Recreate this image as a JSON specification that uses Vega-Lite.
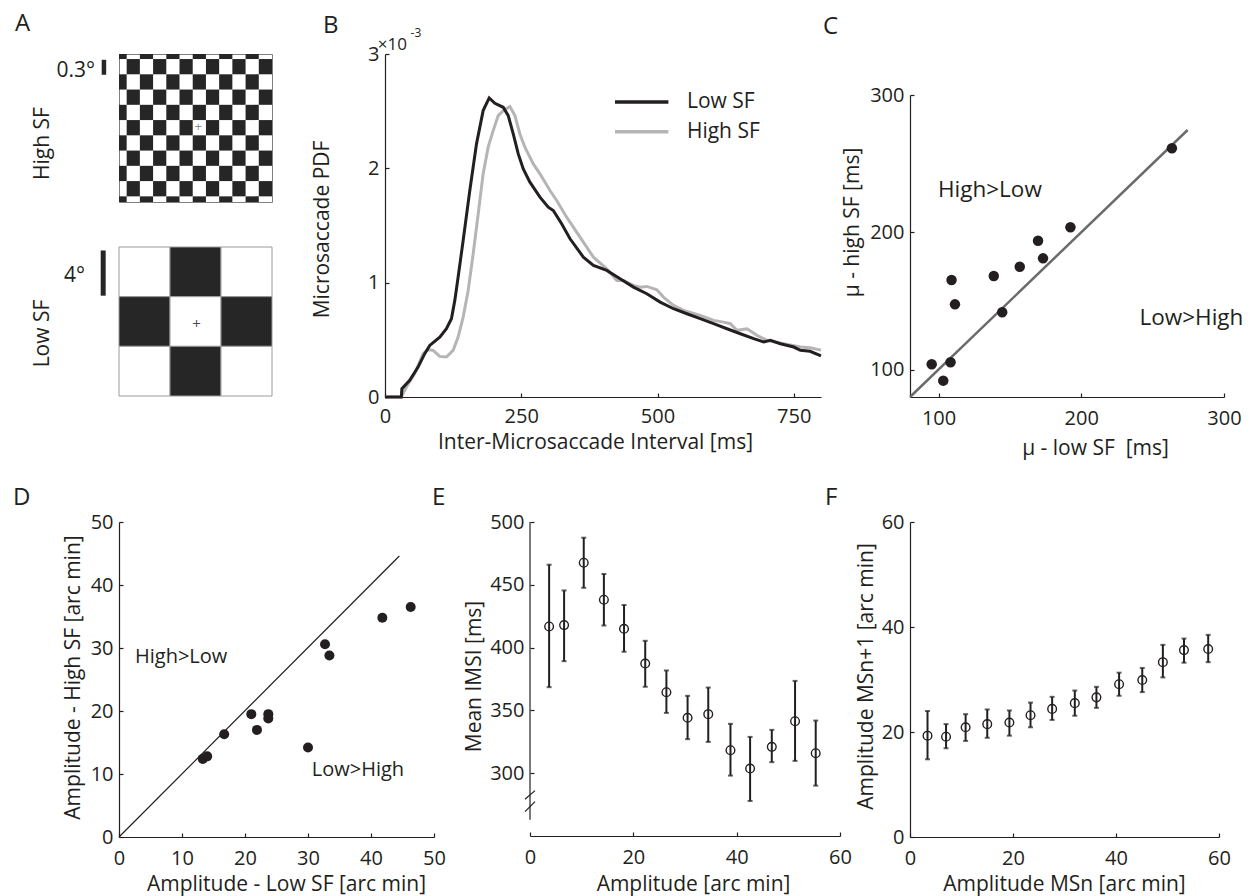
{
  "$schema": "https://vega.github.io/schema/vega-lite/v6.json",
  "autosize": {"type": "none"},
  "padding": {"left": 119, "top": 54, "right": 1133, "bottom": 842},
  "background": "white",
  "config": {
    "font": "Open Sans",
    "view": {"stroke": null},
    "axis": {"grid": false, "domainColor": "#231f20", "domainWidth": 1.2, "tickColor": "#231f20", "tickWidth": 1.2, "tickSize": -4, "labelColor": "#231f20", "labelFontSize": 20, "labelFont": "Open Sans", "titleFont": "Open Sans", "titleFontSize": 21, "titleFontWeight": "normal", "titleColor": "#231f20", "titleBaseline": "alphabetic", "titleAlign": "center", "labelFlush": false, "labelOverlap": false},
    "axisX": {"labelPadding": 15},
    "axisY": {"labelPadding": 10},
    "title": {"anchor": "start", "frame": "group", "fontSize": 24, "fontWeight": "normal", "font": "Open Sans", "color": "#231f20", "baseline": "alphabetic"},
    "text": {"font": "Open Sans", "color": "#231f20"}
  },
  "datasets": {
    "highCells": [
      {"c":-1,"ce":0,"r":-1,"re":0},{"c":1,"ce":2,"r":-1,"re":0},{"c":3,"ce":4,"r":-1,"re":0},{"c":5,"ce":6,"r":-1,"re":0},{"c":7,"ce":8,"r":-1,"re":0},{"c":9,"ce":10,"r":-1,"re":0},
      {"c":0,"ce":1,"r":0,"re":1},{"c":2,"ce":3,"r":0,"re":1},{"c":4,"ce":5,"r":0,"re":1},{"c":6,"ce":7,"r":0,"re":1},{"c":8,"ce":9,"r":0,"re":1},{"c":10,"ce":11,"r":0,"re":1},
      {"c":-1,"ce":0,"r":1,"re":2},{"c":1,"ce":2,"r":1,"re":2},{"c":3,"ce":4,"r":1,"re":2},{"c":5,"ce":6,"r":1,"re":2},{"c":7,"ce":8,"r":1,"re":2},{"c":9,"ce":10,"r":1,"re":2},
      {"c":0,"ce":1,"r":2,"re":3},{"c":2,"ce":3,"r":2,"re":3},{"c":4,"ce":5,"r":2,"re":3},{"c":6,"ce":7,"r":2,"re":3},{"c":8,"ce":9,"r":2,"re":3},{"c":10,"ce":11,"r":2,"re":3},
      {"c":-1,"ce":0,"r":3,"re":4},{"c":1,"ce":2,"r":3,"re":4},{"c":3,"ce":4,"r":3,"re":4},{"c":5,"ce":6,"r":3,"re":4},{"c":7,"ce":8,"r":3,"re":4},{"c":9,"ce":10,"r":3,"re":4},
      {"c":0,"ce":1,"r":4,"re":5},{"c":2,"ce":3,"r":4,"re":5},{"c":4,"ce":5,"r":4,"re":5},{"c":6,"ce":7,"r":4,"re":5},{"c":8,"ce":9,"r":4,"re":5},{"c":10,"ce":11,"r":4,"re":5},
      {"c":-1,"ce":0,"r":5,"re":6},{"c":1,"ce":2,"r":5,"re":6},{"c":3,"ce":4,"r":5,"re":6},{"c":5,"ce":6,"r":5,"re":6},{"c":7,"ce":8,"r":5,"re":6},{"c":9,"ce":10,"r":5,"re":6},
      {"c":0,"ce":1,"r":6,"re":7},{"c":2,"ce":3,"r":6,"re":7},{"c":4,"ce":5,"r":6,"re":7},{"c":6,"ce":7,"r":6,"re":7},{"c":8,"ce":9,"r":6,"re":7},{"c":10,"ce":11,"r":6,"re":7},
      {"c":-1,"ce":0,"r":7,"re":8},{"c":1,"ce":2,"r":7,"re":8},{"c":3,"ce":4,"r":7,"re":8},{"c":5,"ce":6,"r":7,"re":8},{"c":7,"ce":8,"r":7,"re":8},{"c":9,"ce":10,"r":7,"re":8},
      {"c":0,"ce":1,"r":8,"re":9},{"c":2,"ce":3,"r":8,"re":9},{"c":4,"ce":5,"r":8,"re":9},{"c":6,"ce":7,"r":8,"re":9},{"c":8,"ce":9,"r":8,"re":9},{"c":10,"ce":11,"r":8,"re":9},
      {"c":-1,"ce":0,"r":9,"re":10},{"c":1,"ce":2,"r":9,"re":10},{"c":3,"ce":4,"r":9,"re":10},{"c":5,"ce":6,"r":9,"re":10},{"c":7,"ce":8,"r":9,"re":10},{"c":9,"ce":10,"r":9,"re":10}
    ],
    "lowCells": [
      {"c":0,"ce":1,"r":0,"re":1,"tone":"light"},{"c":1,"ce":2,"r":0,"re":1,"tone":"dark"},{"c":2,"ce":3,"r":0,"re":1,"tone":"light"},
      {"c":0,"ce":1,"r":1,"re":2,"tone":"dark"},{"c":1,"ce":2,"r":1,"re":2,"tone":"light"},{"c":2,"ce":3,"r":1,"re":2,"tone":"dark"},
      {"c":0,"ce":1,"r":2,"re":3,"tone":"light"},{"c":1,"ce":2,"r":2,"re":3,"tone":"dark"},{"c":2,"ce":3,"r":2,"re":3,"tone":"light"}
    ],
    "curveLow": [
      {"ms":0,"pdf":0},{"ms":30,"pdf":0},{"ms":31,"pdf":0.073},{"ms":45.3,"pdf":0.146},{"ms":60.7,"pdf":0.262},{"ms":72.9,"pdf":0.379},{"ms":82.1,"pdf":0.451},{"ms":100.5,"pdf":0.524},{"ms":112.7,"pdf":0.597},{"ms":121.9,"pdf":0.685},{"ms":128.1,"pdf":0.845},{"ms":134.2,"pdf":1.049},{"ms":143.4,"pdf":1.369},{"ms":155.6,"pdf":1.806},{"ms":167.9,"pdf":2.214},{"ms":180.1,"pdf":2.505},{"ms":191.2,"pdf":2.616},{"ms":201.6,"pdf":2.569},{"ms":216.9,"pdf":2.534},{"ms":226.1,"pdf":2.461},{"ms":235.3,"pdf":2.301},{"ms":244.5,"pdf":2.126},{"ms":253.7,"pdf":1.995},{"ms":265.9,"pdf":1.879},{"ms":284.3,"pdf":1.748},{"ms":299.6,"pdf":1.66},{"ms":308.8,"pdf":1.631},{"ms":324.1,"pdf":1.515},{"ms":339.5,"pdf":1.384},{"ms":364,"pdf":1.223},{"ms":382.4,"pdf":1.151},{"ms":406.9,"pdf":1.107},{"ms":431.4,"pdf":1.034},{"ms":455.9,"pdf":0.961},{"ms":480.4,"pdf":0.903},{"ms":504.9,"pdf":0.83},{"ms":529.4,"pdf":0.772},{"ms":553.9,"pdf":0.728},{"ms":578.4,"pdf":0.685},{"ms":602.9,"pdf":0.641},{"ms":627.5,"pdf":0.597},{"ms":652,"pdf":0.553},{"ms":676.5,"pdf":0.51},{"ms":694.9,"pdf":0.481},{"ms":707.1,"pdf":0.495},{"ms":725.5,"pdf":0.466},{"ms":750,"pdf":0.437},{"ms":762.3,"pdf":0.408},{"ms":780,"pdf":0.4},{"ms":800,"pdf":0.36}
    ],
    "curveHigh": [
      {"ms":0,"pdf":0},{"ms":30,"pdf":0},{"ms":39.2,"pdf":0.087},{"ms":54.5,"pdf":0.204},{"ms":69.9,"pdf":0.379},{"ms":79,"pdf":0.414},{"ms":88.2,"pdf":0.408},{"ms":100.5,"pdf":0.355},{"ms":112.7,"pdf":0.35},{"ms":125,"pdf":0.408},{"ms":134.2,"pdf":0.524},{"ms":143.4,"pdf":0.699},{"ms":152.6,"pdf":0.932},{"ms":161.8,"pdf":1.253},{"ms":171,"pdf":1.602},{"ms":180.1,"pdf":1.952},{"ms":189.3,"pdf":2.185},{"ms":198.5,"pdf":2.33},{"ms":207.7,"pdf":2.461},{"ms":216.9,"pdf":2.505},{"ms":229.2,"pdf":2.54},{"ms":238.4,"pdf":2.461},{"ms":247.5,"pdf":2.301},{"ms":256.7,"pdf":2.185},{"ms":272.1,"pdf":2.039},{"ms":284.3,"pdf":1.952},{"ms":302.7,"pdf":1.806},{"ms":315,"pdf":1.719},{"ms":333.3,"pdf":1.573},{"ms":357.8,"pdf":1.398},{"ms":382.4,"pdf":1.223},{"ms":406.9,"pdf":1.121},{"ms":425.2,"pdf":1.02},{"ms":437.5,"pdf":1.02},{"ms":455.9,"pdf":0.976},{"ms":468.1,"pdf":0.961},{"ms":480.4,"pdf":0.967},{"ms":498.8,"pdf":0.938},{"ms":511,"pdf":0.874},{"ms":529.4,"pdf":0.801},{"ms":547.8,"pdf":0.757},{"ms":578.4,"pdf":0.714},{"ms":602.9,"pdf":0.67},{"ms":621.3,"pdf":0.655},{"ms":633.6,"pdf":0.641},{"ms":645.8,"pdf":0.583},{"ms":664.2,"pdf":0.597},{"ms":682.6,"pdf":0.539},{"ms":701,"pdf":0.495},{"ms":731.6,"pdf":0.466},{"ms":762.3,"pdf":0.437},{"ms":780,"pdf":0.43},{"ms":800,"pdf":0.41}
    ],
    "muC": [
      {"low":95.2,"high":103.8},{"low":103.3,"high":91.9},{"low":108.4,"high":105.3},{"low":109.1,"high":165.2},{"low":111.5,"high":147.5},{"low":138.7,"high":168.1},{"low":144.6,"high":141.7},{"low":156.9,"high":174.9},{"low":169.7,"high":193.8},{"low":173.2,"high":181.0},{"low":192.4,"high":203.6},{"low":263.5,"high":261.2}
    ],
    "ampD": [
      {"low":13.3,"high":12.4},{"low":14.0,"high":12.8},{"low":16.7,"high":16.3},{"low":21.0,"high":19.5},{"low":21.9,"high":17.0},{"low":23.7,"high":19.5},{"low":23.7,"high":18.8},{"low":30.0,"high":14.2},{"low":32.7,"high":30.6},{"low":33.4,"high":28.8},{"low":41.8,"high":34.8},{"low":46.3,"high":36.5}
    ],
    "imsiE": [
      {"a":3.7,"m":416.8,"lo":368.5,"hi":466.0},{"a":6.6,"m":417.9,"lo":389.2,"hi":445.5},{"a":10.4,"m":467.6,"lo":447.6,"hi":487.5},{"a":14.3,"m":438.1,"lo":417.6,"hi":458.6},{"a":18.2,"m":415.0,"lo":396.7,"hi":433.9},{"a":22.3,"m":387.3,"lo":368.8,"hi":405.4},{"a":26.4,"m":364.5,"lo":348.0,"hi":381.8},{"a":30.5,"m":344.1,"lo":327.1,"hi":361.6},{"a":34.5,"m":347.0,"lo":324.9,"hi":368.2},{"a":38.8,"m":318.3,"lo":298.1,"hi":339.3},{"a":42.6,"m":303.7,"lo":277.9,"hi":328.9},{"a":46.8,"m":321.0,"lo":308.8,"hi":334.5},{"a":51.3,"m":341.4,"lo":309.8,"hi":373.5},{"a":55.3,"m":315.9,"lo":290.1,"hi":341.9}
    ],
    "ampF": [
      {"a":3.4,"m":19.3,"lo":14.8,"hi":24.0},{"a":7.0,"m":19.1,"lo":16.9,"hi":21.5},{"a":10.8,"m":20.9,"lo":18.3,"hi":23.4},{"a":15.0,"m":21.5,"lo":18.9,"hi":24.3},{"a":19.3,"m":21.8,"lo":19.3,"hi":24.1},{"a":23.4,"m":23.2,"lo":20.9,"hi":25.6},{"a":27.6,"m":24.4,"lo":22.3,"hi":26.7},{"a":32.0,"m":25.5,"lo":23.1,"hi":27.9},{"a":36.2,"m":26.6,"lo":24.6,"hi":28.6},{"a":40.6,"m":29.1,"lo":26.9,"hi":31.3},{"a":45.1,"m":29.9,"lo":27.6,"hi":32.2},{"a":49.1,"m":33.3,"lo":30.4,"hi":36.6},{"a":53.2,"m":35.6,"lo":33.2,"hi":37.8},{"a":57.9,"m":35.8,"lo":33.3,"hi":38.5}
    ]
  },
  "bounds": "flush",
  "spacing": 468,
  "vconcat": [
    {
      "bounds": "flush",
      "spacing": 266,
      "hconcat": [
        {
          "bounds": "flush",
          "spacing": 45,
          "vconcat": [
            {
              "width": 153, "height": 148,
              "title": {"text": "A", "dx": -104, "offset": 21, "dy": 3},
              "view": {"stroke": "#808080", "strokeWidth": 1},
              "layer": [
                {"data": {"name": "highCells"}, "mark": {"type": "rect", "clip": true, "color": "#262626"},
                 "encoding": {
                   "x": {"field": "c", "type": "quantitative", "scale": {"domain": [-0.58, 11.0], "nice": false, "zero": false}, "axis": null},
                   "x2": {"field": "ce"},
                   "y": {"field": "r", "type": "quantitative", "scale": {"domain": [-0.33, 9.37], "nice": false, "zero": false, "reverse": true},
                         "axis": {"title": "High SF", "domain": false, "ticks": false, "labels": false, "titleX": -71, "titleY": 89}},
                   "y2": {"field": "re"}}},
                {"data": {"values": [{}]}, "mark": {"type": "text", "text": "+", "fontSize": 13, "color": "#8c8c8c", "align": "center", "baseline": "middle"},
                 "encoding": {"x": {"datum": 5.42, "type": "quantitative"}, "y": {"datum": 4.48, "type": "quantitative"}}},
                {"data": {"values": [{}]}, "mark": {"type": "rule", "strokeWidth": 4.5, "color": "#262626"},
                 "encoding": {"x": {"datum": -1.72, "type": "quantitative"}, "y": {"datum": 0.05, "type": "quantitative"}, "y2": {"datum": 1.03}}},
                {"data": {"values": [{}]}, "mark": {"type": "text", "text": "0.3°", "fontSize": 21, "align": "right", "baseline": "alphabetic"},
                 "encoding": {"x": {"datum": -2.4, "type": "quantitative"}, "y": {"datum": 1.16, "type": "quantitative"}}}
              ]
            },
            {
              "width": 153, "height": 149,
              "layer": [
                {"data": {"name": "lowCells"}, "mark": {"type": "rect", "stroke": "#9a9a9a", "strokeWidth": 1},
                 "encoding": {
                   "x": {"field": "c", "type": "quantitative", "scale": {"domain": [0, 3], "nice": false, "zero": false}, "axis": null},
                   "x2": {"field": "ce"},
                   "y": {"field": "r", "type": "quantitative", "scale": {"domain": [0, 3], "nice": false, "zero": false, "reverse": true},
                         "axis": {"title": "Low SF", "domain": false, "ticks": false, "labels": false, "titleX": -71, "titleY": 86}},
                   "y2": {"field": "re"},
                   "fill": {"field": "tone", "type": "nominal", "scale": {"domain": ["dark", "light"], "range": ["#262626", "#ffffff"]}, "legend": null}}},
                {"data": {"values": [{}]}, "mark": {"type": "text", "text": "+", "fontSize": 15, "color": "#4a4a4a", "align": "center", "baseline": "middle"},
                 "encoding": {"x": {"datum": 1.52, "type": "quantitative"}, "y": {"datum": 1.55, "type": "quantitative"}}},
                {"data": {"values": [{}]}, "mark": {"type": "rule", "strokeWidth": 5, "color": "#262626"},
                 "encoding": {"x": {"datum": -0.31, "type": "quantitative"}, "y": {"datum": 0.07, "type": "quantitative"}, "y2": {"datum": 0.98}}},
                {"data": {"values": [{}]}, "mark": {"type": "text", "text": "4°", "fontSize": 21, "align": "right", "baseline": "alphabetic"},
                 "encoding": {"x": {"datum": -0.667, "type": "quantitative"}, "y": {"datum": 0.7, "type": "quantitative"}}}
              ]
            }
          ]
        },
        {
          "bounds": "flush",
          "spacing": 89,
          "hconcat": [
            {
              "width": 436, "height": 343,
              "title": {"text": "B", "dx": -62, "offset": 9, "dy": 20},
              "layer": [
                {"data": {"name": "curveHigh"}, "mark": {"type": "line", "strokeWidth": 3, "color": "#b5b5b8"},
                 "encoding": {
                   "x": {"field": "ms", "type": "quantitative", "scale": {"domain": [0, 800], "nice": false}, "axis": {"values": [0, 250, 500, 750], "labelPadding": 13, "title": "Inter-Microsaccade Interval [ms]", "titleX": 210, "titleY": 51}},
                   "y": {"field": "pdf", "type": "quantitative", "scale": {"domain": [0, 3], "nice": false}, "axis": {"values": [0, 1, 2, 3], "format": "d", "title": "Microsaccade PDF", "titleX": -57, "titleY": 175}}}},
                {"data": {"name": "curveLow"}, "mark": {"type": "line", "strokeWidth": 3, "color": "#231f20"},
                 "encoding": {"x": {"field": "ms", "type": "quantitative"}, "y": {"field": "pdf", "type": "quantitative"}}},
                {"data": {"values": [{}]}, "mark": {"type": "rule", "strokeWidth": 3.5, "color": "#231f20"},
                 "encoding": {"x": {"datum": 422, "type": "quantitative"}, "x2": {"datum": 520}, "y": {"datum": 2.58, "type": "quantitative"}}},
                {"data": {"values": [{}]}, "mark": {"type": "rule", "strokeWidth": 3.5, "color": "#b5b5b8"},
                 "encoding": {"x": {"datum": 422, "type": "quantitative"}, "x2": {"datum": 520}, "y": {"datum": 2.32, "type": "quantitative"}}},
                {"data": {"values": [{}]}, "mark": {"type": "text", "text": "Low SF", "fontSize": 21, "align": "left", "baseline": "middle"},
                 "encoding": {"x": {"datum": 554, "type": "quantitative"}, "y": {"datum": 2.58, "type": "quantitative"}}},
                {"data": {"values": [{}]}, "mark": {"type": "text", "text": "High SF", "fontSize": 21, "align": "left", "baseline": "middle"},
                 "encoding": {"x": {"datum": 554, "type": "quantitative"}, "y": {"datum": 2.32, "type": "quantitative"}}},
                {"data": {"values": [{}]}, "mark": {"type": "text", "text": "×10", "fontSize": 17, "align": "left", "baseline": "alphabetic"},
                 "encoding": {"x": {"datum": -13.4, "type": "quantitative"}, "y": {"datum": 3.035, "type": "quantitative"}}},
                {"data": {"values": [{}]}, "mark": {"type": "text", "text": "-3", "fontSize": 12, "align": "left", "baseline": "alphabetic"},
                 "encoding": {"x": {"datum": 47, "type": "quantitative"}, "y": {"datum": 3.15, "type": "quantitative"}}}
              ]
            },
            {
              "bounds": "flush",
              "spacing": 40,
              "vconcat": [
                {"width": 314, "height": 1, "data": {"values": [{}]}, "mark": {"type": "text", "text": ""}, "encoding": {}},
                {
                  "width": 314, "height": 302,
                  "title": {"text": "C", "dx": -87, "offset": 50, "dy": 4},
                  "layer": [
                    {"data": {"values": [{}]}, "mark": {"type": "rule", "strokeWidth": 2.5, "color": "#6b6b6b"},
                     "encoding": {
                       "x": {"datum": 80, "type": "quantitative", "scale": {"domain": [80, 300], "nice": false, "zero": false}, "axis": {"values": [100, 200, 300], "title": "μ - low SF\u00a0 [ms]", "titleX": 185, "titleY": 57}},
                       "y": {"datum": 80, "type": "quantitative", "scale": {"domain": [80, 300], "nice": false, "zero": false}, "axis": {"values": [100, 200, 300], "title": "μ - high SF [ms]", "titleX": -52, "titleY": 127}},
                       "x2": {"datum": 274.5}, "y2": {"datum": 274.5}}},
                    {"data": {"name": "muC"}, "mark": {"type": "circle", "size": 110, "opacity": 1, "color": "#231f20"},
                     "encoding": {"x": {"field": "low", "type": "quantitative"}, "y": {"field": "high", "type": "quantitative"}}},
                    {"data": {"values": [{}]}, "mark": {"type": "text", "text": "High>Low", "fontSize": 22.5, "align": "left", "baseline": "alphabetic"},
                     "encoding": {"x": {"datum": 99.6, "type": "quantitative"}, "y": {"datum": 225.9, "type": "quantitative"}}},
                    {"data": {"values": [{}]}, "mark": {"type": "text", "text": "Low>High", "fontSize": 22.5, "align": "left", "baseline": "alphabetic"},
                     "encoding": {"x": {"datum": 240.8, "type": "quantitative"}, "y": {"datum": 132.5, "type": "quantitative"}}}
                  ]
                }
              ]
            }
          ]
        }
      ]
    },
    {
      "bounds": "flush",
      "spacing": 96,
      "hconcat": [
        {
          "width": 315, "height": 315,
          "title": {"text": "D", "dx": -106, "offset": 5, "dy": 3},
          "layer": [
            {"data": {"values": [{}]}, "mark": {"type": "rule", "strokeWidth": 1.2, "color": "#231f20"},
             "encoding": {
               "x": {"datum": 0, "type": "quantitative", "scale": {"domain": [0, 50], "nice": false}, "axis": {"values": [0, 10, 20, 30, 40, 50], "title": "Amplitude - Low SF [arc min]", "titleX": 167, "titleY": 53}},
               "y": {"datum": 0, "type": "quantitative", "scale": {"domain": [0, 50], "nice": false}, "axis": {"values": [0, 10, 20, 30, 40, 50], "title": "Amplitude - High SF [arc min]", "titleX": -40, "titleY": 155}},
               "x2": {"datum": 44.5}, "y2": {"datum": 44.6}}},
            {"data": {"name": "ampD"}, "mark": {"type": "circle", "size": 100, "opacity": 1, "color": "#231f20"},
             "encoding": {"x": {"field": "low", "type": "quantitative"}, "y": {"field": "high", "type": "quantitative"}}},
            {"data": {"values": [{}]}, "mark": {"type": "text", "text": "High>Low", "fontSize": 20, "align": "left", "baseline": "alphabetic"},
             "encoding": {"x": {"datum": 2.54, "type": "quantitative"}, "y": {"datum": 27.6, "type": "quantitative"}}},
            {"data": {"values": [{}]}, "mark": {"type": "text", "text": "Low>High", "fontSize": 20, "align": "left", "baseline": "alphabetic"},
             "encoding": {"x": {"datum": 30.6, "type": "quantitative"}, "y": {"datum": 9.7, "type": "quantitative"}}}
          ]
        },
        {
          "bounds": "flush",
          "spacing": 70,
          "hconcat": [
            {
              "width": 310, "height": 314,
              "title": {"text": "E", "dx": -98, "offset": 5, "dy": 3},
              "layer": [
                {"data": {"values": [{}]}, "mark": {"type": "rule", "strokeWidth": 1.2, "color": "#231f20"},
                 "encoding": {
                   "x": {"datum": 0, "type": "quantitative", "scale": {"domain": [0, 60], "nice": false}, "axis": {"values": [0, 20, 40, 60], "title": "Amplitude [arc min]", "titleX": 163, "titleY": 54}},
                   "y": {"datum": 263, "type": "quantitative", "scale": {"domain": [250, 500], "nice": false, "zero": false}, "axis": {"values": [300, 350, 400, 450, 500], "domain": false, "title": "Mean IMSI [ms]", "titleX": -50, "titleY": 154}},
                   "y2": {"datum": 500}}},
                {"data": {"values": [{}]}, "mark": {"type": "rule", "strokeWidth": 1.2, "color": "#231f20"},
                 "encoding": {"x": {"datum": -0.97, "type": "quantitative"}, "x2": {"datum": 0.97}, "y": {"datum": 279.3, "type": "quantitative"}, "y2": {"datum": 286.1}}},
                {"data": {"values": [{}]}, "mark": {"type": "rule", "strokeWidth": 1.2, "color": "#231f20"},
                 "encoding": {"x": {"datum": -0.97, "type": "quantitative"}, "x2": {"datum": 0.97}, "y": {"datum": 269.4, "type": "quantitative"}, "y2": {"datum": 277.4}}},
                {"data": {"name": "imsiE"}, "mark": {"type": "rule", "strokeWidth": 2, "color": "#231f20"},
                 "encoding": {"x": {"field": "a", "type": "quantitative"}, "y": {"field": "lo", "type": "quantitative"}, "y2": {"field": "hi"}}},
                {"data": {"name": "imsiE"}, "mark": {"type": "tick", "orient": "horizontal", "size": 5, "thickness": 2, "color": "#231f20"},
                 "encoding": {"x": {"field": "a", "type": "quantitative"}, "y": {"field": "lo", "type": "quantitative"}}},
                {"data": {"name": "imsiE"}, "mark": {"type": "tick", "orient": "horizontal", "size": 5, "thickness": 2, "color": "#231f20"},
                 "encoding": {"x": {"field": "a", "type": "quantitative"}, "y": {"field": "hi", "type": "quantitative"}}},
                {"data": {"name": "imsiE"}, "mark": {"type": "point", "shape": "circle", "filled": false, "size": 75, "strokeWidth": 1.4, "color": "#231f20", "opacity": 1},
                 "encoding": {"x": {"field": "a", "type": "quantitative"}, "y": {"field": "m", "type": "quantitative"}}}
              ]
            },
            {
              "width": 309, "height": 315,
              "title": {"text": "F", "dx": -85, "offset": 5, "dy": 3},
              "layer": [
                {"data": {"name": "ampF"}, "mark": {"type": "rule", "strokeWidth": 2, "color": "#231f20"},
                 "encoding": {
                   "x": {"field": "a", "type": "quantitative", "scale": {"domain": [0, 60], "nice": false}, "axis": {"values": [0, 20, 40, 60], "title": "Amplitude MSn [arc min]", "titleX": 154, "titleY": 53}},
                   "y": {"field": "lo", "type": "quantitative", "scale": {"domain": [0, 60], "nice": false}, "axis": {"values": [0, 20, 40, 60], "title": "Amplitude MSn+1 [arc min]", "titleX": -38, "titleY": 154}},
                   "y2": {"field": "hi"}}},
                {"data": {"name": "ampF"}, "mark": {"type": "tick", "orient": "horizontal", "size": 5, "thickness": 2, "color": "#231f20"},
                 "encoding": {"x": {"field": "a", "type": "quantitative"}, "y": {"field": "lo", "type": "quantitative"}}},
                {"data": {"name": "ampF"}, "mark": {"type": "tick", "orient": "horizontal", "size": 5, "thickness": 2, "color": "#231f20"},
                 "encoding": {"x": {"field": "a", "type": "quantitative"}, "y": {"field": "hi", "type": "quantitative"}}},
                {"data": {"name": "ampF"}, "mark": {"type": "point", "shape": "circle", "filled": false, "size": 75, "strokeWidth": 1.4, "color": "#231f20", "opacity": 1},
                 "encoding": {"x": {"field": "a", "type": "quantitative"}, "y": {"field": "m", "type": "quantitative"}}}
              ]
            }
          ]
        }
      ]
    }
  ]
}
